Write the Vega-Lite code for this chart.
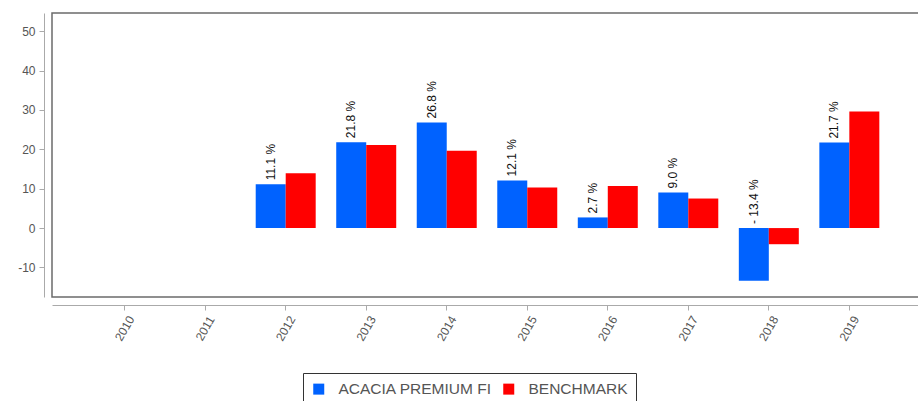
{
  "$schema": "https://vega.github.io/schema/vega-lite/v6.json",
  "autosize": "none",
  "width": 870,
  "height": 284,
  "padding": {"left": 52, "top": 13, "right": 0, "bottom": 104},
  "background": "white",
  "config": {
    "view": {"stroke": "#6b6b6b", "strokeWidth": 1.5},
    "font": "Liberation Sans"
  },
  "data": {
    "values": [
      {"year": "2012", "series": "ACACIA PREMIUM FI", "value": 11.1},
      {"year": "2012", "series": "BENCHMARK", "value": 13.9},
      {"year": "2013", "series": "ACACIA PREMIUM FI", "value": 21.8},
      {"year": "2013", "series": "BENCHMARK", "value": 21.1},
      {"year": "2014", "series": "ACACIA PREMIUM FI", "value": 26.8},
      {"year": "2014", "series": "BENCHMARK", "value": 19.6},
      {"year": "2015", "series": "ACACIA PREMIUM FI", "value": 12.1},
      {"year": "2015", "series": "BENCHMARK", "value": 10.3},
      {"year": "2016", "series": "ACACIA PREMIUM FI", "value": 2.7},
      {"year": "2016", "series": "BENCHMARK", "value": 10.7},
      {"year": "2017", "series": "ACACIA PREMIUM FI", "value": 9.0},
      {"year": "2017", "series": "BENCHMARK", "value": 7.5},
      {"year": "2018", "series": "ACACIA PREMIUM FI", "value": -13.4},
      {"year": "2018", "series": "BENCHMARK", "value": -4.1},
      {"year": "2019", "series": "ACACIA PREMIUM FI", "value": 21.7},
      {"year": "2019", "series": "BENCHMARK", "value": 29.6}
    ]
  },
  "encoding": {
    "x": {
      "field": "year",
      "type": "nominal",
      "scale": {
        "domain": ["2010", "2011", "2012", "2013", "2014", "2015", "2016", "2017", "2018", "2019"],
        "paddingInner": 0.255,
        "paddingOuter": 0.53
      },
      "axis": {
        "title": null,
        "offset": 8,
        "labelAngle": -60,
        "labelAlign": "center",
        "labelBaseline": "middle",
        "labelFontSize": 12,
        "labelColor": "#555555",
        "domainColor": "#aaaaaa",
        "tickColor": "#aaaaaa",
        "tickSize": 5,
        "labelPadding": 18
      }
    },
    "xOffset": {
      "field": "series",
      "type": "nominal",
      "scale": {"domain": ["ACACIA PREMIUM FI", "BENCHMARK"], "paddingInner": 0, "paddingOuter": 0}
    }
  },
  "layer": [
    {
      "mark": {"type": "bar"},
      "encoding": {
        "y": {
          "field": "value",
          "type": "quantitative",
          "scale": {"domain": [-17.5, 54.6], "nice": false, "zero": false},
          "axis": {
            "title": null,
            "values": [-10, 0, 10, 20, 30, 40, 50],
            "labelExpr": "replace(datum.label, '\u2212', '-')",
            "offset": 8,
            "grid": false,
            "labelFontSize": 12,
            "labelColor": "#555555",
            "domainColor": "#aaaaaa",
            "tickColor": "#aaaaaa",
            "tickSize": 5,
            "labelPadding": 4
          }
        },
        "y2": {"datum": 0},
        "color": {
          "field": "series",
          "type": "nominal",
          "scale": {"domain": ["ACACIA PREMIUM FI", "BENCHMARK"], "range": ["#0062ff", "#ff0000"]},
          "legend": {
            "title": null,
            "orient": "none",
            "legendX": 251,
            "legendY": 360,
            "direction": "horizontal",
            "columns": 2,
            "strokeColor": "#333333",
            "padding": 8,
            "symbolType": "square",
            "symbolSize": 121,
            "symbolStrokeWidth": 0,
            "labelFontSize": 15.5,
            "labelOffset": 12,
            "labelColor": "#555555",
            "columnPadding": 9
          }
        }
      }
    },
    {
      "transform": [
        {"filter": "datum.series === 'ACACIA PREMIUM FI'"},
        {"calculate": "max(datum.value, 0)", "as": "labelPos"},
        {"calculate": "replace(format(datum.value, '.1f'), '\u2212', '- ') + ' %'", "as": "label"}
      ],
      "mark": {"type": "text", "angle": 270, "align": "left", "baseline": "middle", "dx": 4, "fontSize": 12, "color": "#111111"},
      "encoding": {
        "y": {"field": "labelPos", "type": "quantitative"},
        "text": {"field": "label"}
      }
    }
  ]
}
